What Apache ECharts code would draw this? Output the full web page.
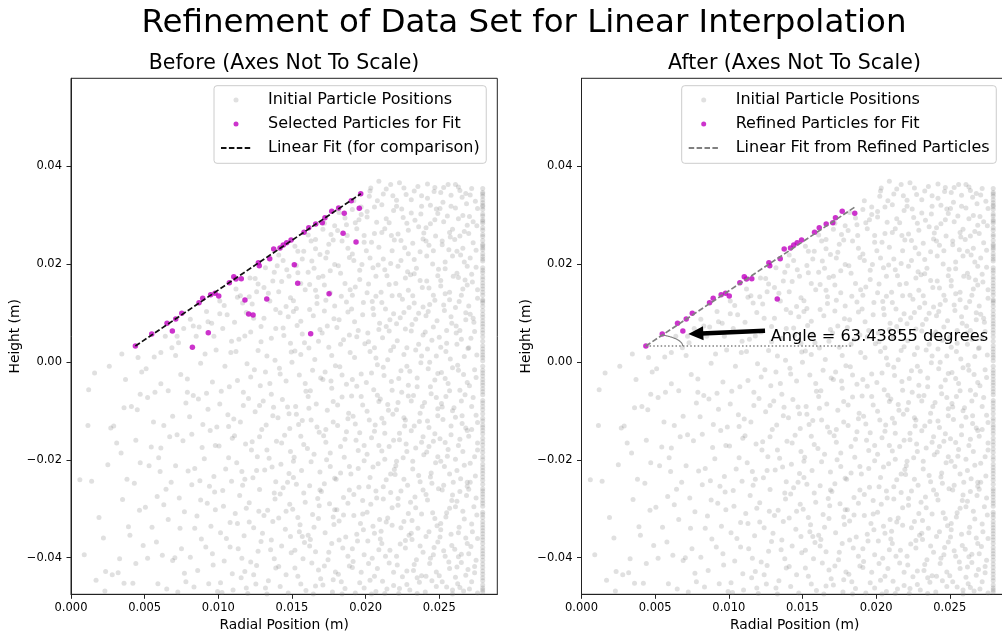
<!DOCTYPE html>
<html>
<head>
<meta charset="utf-8">
<script src="https://cdn.jsdelivr.net/npm/echarts@6/dist/echarts.min.js"></script>
<style>
html,body{margin:0;padding:0;background:#ffffff;}
#chart{width:1002px;height:633px;}
</style>
</head>
<body>
<div id="chart"></div>
<script>
// ---------------- text ----------------
const FONT = 'DejaVu Sans';
const chartTitle = 'Refinement of Data Set for Linear Interpolation';
const leftTitle = 'Before (Axes Not To Scale)';
const rightTitle = 'After (Axes Not To Scale)';
const xAxisName = 'Radial Position (m)';
const yAxisName = 'Height (m)';
const nameInitial = 'Initial Particle Positions';
const nameSelected = 'Selected Particles for Fit';
const nameFitBefore = 'Linear Fit (for comparison)';
const nameRefined = 'Refined Particles for Fit';
const nameFitAfter = 'Linear Fit from Refined Particles';
const angleLabel = 'Angle = 63.43855 degrees';

// ---------------- ticks ----------------
const xTicks = [0, 0.005, 0.010, 0.015, 0.020, 0.025];
const xTickLabels = ['0.000', '0.005', '0.010', '0.015', '0.020', '0.025'];
const yTicks = [-0.04, -0.02, 0, 0.02, 0.04];
const yTickLabels = ['\u22120.04', '\u22120.02', '0.00', '0.02', '0.04'];
const xRange = [0, 0.02894];
const yRange = [-0.04748, 0.05791];

// ---------------- initial particle positions (x, y in m) ----------------
const initialParticles = [
[.0006,-.0241],[.0009,-.0394],
[.0012,-.0057],[.00115,-.0130],[.0014,-.0244],[.0017,-.0446],[.0019,-.0318],[.0016,-.0023],
[.0023,-.0468],[.0025,-.0210],[.0027,-.0135],[.0029,-.0131],[.00235,-.0428],[.0028,-.0435],[.0022,-.0360],[.0026,-.0009],
[.0031,-.0166],[.0034,-.0186],[.00345,.0016],[.0037,-.0036],[.0032,-.0431],[.0035,-.0281],[.0039,-.0337],[.0036,-.0094],[.0033,-.0402],[.0038,-.0240],[.0036,-.0452],
[.0041,-.0091],[.0045,-.0098],[.0043,-.0248],[.00465,-.0303],[.0042,-.0452],[.0048,-.0021],[.0044,-.0160],[.0049,-.0375],[.0047,-.0206],[.0040,-.0354],[.00455,.0009],[.0044,-.0412],[.0047,-.0066],
[.0051,-.0014],[.0056,-.0123],[.0053,-.0212],[.00585,-.0275],[.0055,-.0338],[.0052,-.0401],[.0059,-.0453],[.0057,-.0062],[.00545,-.0174],[.00505,-.0297],[.00565,.0010],[.00595,-.0196],[.0052,-.0073],[.0058,-.0368],
[.0064,.0052],[.00685,.0029],[.0061,-.0045],[.0066,-.0059],[.0063,-.0130],[.0067,-.0153],[.00605,-.0224],[.0068,-.0246],[.00645,-.0260],[.0066,-.0322],[.0062,-.0395],[.0069,-.0406],[.0065,-.0464],[.0061,-.0176],[.0063,-.0292],[.0069,-.0111],[.0061,.0019],
[.00765,.0068],[.0073,.0039],[.0071,.0013],[.00745,-.0026],[.0079,-.0035],[.0078,-.0084],[.0072,-.0149],[.0076,-.0161],[.00795,-.0223],[.00735,-.0278],[.0077,-.0306],[.0075,-.0382],[.00705,-.0400],[.0078,-.0449],[.00725,-.0470],[.0071,-.0212],[.0074,-.0340],[.0077,-.0432],[.0079,-.0062],[.0072,.0052],
[.0081,.0087],[.0085,.0052],[.0088,-.0003],[.0083,-.0069],[.00865,-.0076],[.00805,-.0112],[.0089,-.0175],[.0084,-.0218],[.00875,-.0243],[.0082,-.0251],[.00855,-.0315],[.00885,-.0362],[.0081,-.0399],[.0086,-.0426],[.00835,-.0460],[.00895,-.0128],
[.0087,.0071],[.0082,-.0148],[.0088,-.0282],[.0084,-.0340],[.0083,.0073],
[.0092,.0103],[.00955,.0079],[.00985,.0024],[.0091,.0016],[.0096,-.0041],[.0093,-.0097],[.0099,-.0133],[.00945,-.0140],[.00905,-.0198],[.0097,-.0234],[.00925,-.0289],[.0098,-.0302],[.0095,-.0336],[.00915,-.0378],[.00965,-.0415],[.00935,-.0453],[.00995,-.0469],[.00975,-.0266],
[.0097,.0052],[.0092,-.0064],[.0098,-.0171],[.0094,-.0254],[.0096,-.0392],[.0093,.0082],
[.0101,.0124],[.0106,.0096],[.0103,.0068],[.01085,.0019],[.01045,-.0009],[.01075,-.0051],[.0102,-.0060],[.01065,-.0108],[.01095,-.0156],[.01005,-.0172],[.0105,-.0219],[.0109,-.0244],[.01035,-.0295],[.0108,-.0328],[.01015,-.0349],[.01055,-.0361],[.0104,-.0407],[.01095,-.0433],[.01025,-.0471],[.0107,-.0132],
[.0104,.0115],[.0109,.0042],[.0101,-.0086],[.0107,-.0196],[.0103,-.0263],[.0108,-.0378],[.01015,-.0451],[.0101,.0098],
[.0112,.0149],[.01165,.0120],[.0111,.0081],[.0118,.0053],[.0114,.0046],[.01195,-.0004],[.0113,-.0038],[.0117,-.0089],[.01105,-.0117],[.0115,-.0123],[.01185,-.0168],[.01125,-.0206],[.0116,-.0224],[.01145,-.0273],[.0119,-.0299],[.01115,-.0310],[.01175,-.0355],[.01135,-.0382],[.0118,-.0428],[.01155,-.0441],[.0110,-.0466],[.01165,-.0252],
[.0115,.0135],[.0119,.0101],[.0112,.0021],[.0117,-.0062],[.0111,-.0151],[.0118,-.0240],[.0113,-.0330],[.0116,-.0401],[.0119,-.0462],[.0113,.0132],
[.01215,.0171],[.0126,.0143],[.0123,.0118],[.0129,.0072],[.0122,.0061],[.0127,.0023],[.01245,-.0016],[.01285,-.0049],[.01205,-.0075],[.0125,-.0102],[.01295,-.0138],[.01225,-.0180],[.01265,-.0194],[.01235,-.0237],[.0128,-.0261],[.0121,-.0288],[.01275,-.0305],[.0124,-.0339],[.0129,-.0367],[.0122,-.0409],[.0126,-.0416],[.01255,-.0454],[.0120,-.0473],[.0128,-.0153],
[.0127,.0159],[.0121,.0133],[.0124,.0089],[.0129,.0041],[.0122,-.0031],[.0128,-.0089],[.0123,-.0163],[.0126,-.0222],[.0121,-.0327],[.0127,-.0387],[.0124,-.0435],[.0125,.0170],
[.0132,.0192],[.0137,.0165],[.0134,.0140],[.0139,.0107],[.0131,.0089],[.0136,.0048],[.0133,.0012],[.01385,.0003],[.0135,-.0044],[.01305,-.0080],[.01375,-.0093],[.01325,-.0129],[.01395,-.0162],[.01345,-.0197],[.01365,-.0215],[.01315,-.0221],[.0138,-.0268],[.01335,-.0303],[.0137,-.0326],[.0130,-.0350],[.01355,-.0384],[.0139,-.0421],[.0134,-.0447],[.0132,-.0462],[.0136,-.0066],[.01385,-.0280],
[.0138,.0183],[.0131,.0152],[.0135,.0124],[.0139,.0068],[.0132,-.0021],[.0137,-.0110],[.0133,-.0180],[.0139,-.0245],[.0131,-.0314],[.0136,-.0364],[.0138,-.0402],[.0133,-.0474],
[.0141,.0218],[.01465,.0188],[.0143,.0164],[.0149,.0131],[.0142,.0100],[.01475,.0092],[.01445,.0054],[.01495,.0020],[.01415,-.0013],[.0146,-.0039],[.01435,-.0077],[.0148,-.0106],[.01405,-.0114],[.0145,-.0150],[.0149,-.0183],[.01425,-.0209],[.0147,-.0246],[.0144,-.0257],[.01485,-.0291],[.0141,-.0319],[.01455,-.0342],[.0143,-.0376],[.01495,-.0390],[.0146,-.0435],[.0142,-.0459],[.01475,-.0472],[.0144,.0069],[.01485,-.0136],
[.0144,.0207],[.0148,.0175],[.0141,.0143],[.0146,.0113],[.0149,.0038],[.0142,-.0025],[.0147,-.0092],[.0143,-.0166],[.0148,-.0228],[.0142,-.0270],[.0146,-.0305],[.0149,-.0357],[.0141,-.0418],[.0140,.0196],
[.0152,.0236],[.0157,.0210],[.0154,.0182],[.0159,.0147],[.0151,.0125],[.0156,.0083],[.01535,.0074],[.01585,.0039],[.0150,-.0001],[.0155,-.0027],[.01595,-.0060],[.01525,-.0091],[.0157,-.0120],[.01545,-.0128],[.0158,-.0169],[.01515,-.0195],[.01565,-.0222],[.0153,-.0250],[.0159,-.0287],[.01505,-.0301],[.01555,-.0333],[.01585,-.0369],[.0152,-.0385],[.01575,-.0402],[.0154,-.0438],[.01595,-.0467],[.0156,.0015],[.0151,-.0203],[.0155,-.0347],[.0153,.0109],
[.0158,.0226],[.0153,.0197],[.0156,.0160],[.0151,.0103],[.0157,.0057],[.0152,.0022],[.0159,-.0044],[.0153,-.0107],[.0156,-.0152],[.0151,-.0236],[.0158,-.0268],[.0154,-.0318],[.0157,-.0357],[.0152,-.0421],[.0156,-.0454],[.0154,.0226],
[.0161,.0259],[.0166,.0231],[.01635,.0206],[.0168,.0172],[.0162,.0158],[.0167,.0119],[.01645,.0094],[.0169,.0066],[.01615,.0028],[.01655,.0005],[.01695,-.0033],[.01625,-.0059],[.01665,-.0086],[.0163,-.0119],[.01685,-.0144],[.01605,-.0177],[.0165,-.0189],[.0169,-.0225],[.0162,-.0253],[.01675,-.0279],[.0164,-.0312],[.0168,-.0320],[.0161,-.0354],[.0166,-.0388],[.01635,-.0411],[.01695,-.0443],[.01645,-.0474],[.0167,.0133],[.01615,-.0095],[.01685,-.0294],[.0165,.0191],[.01625,-.0363],
[.0163,.0247],[.0169,.0219],[.0161,.0183],[.0166,.0146],[.0162,.0107],[.0168,.0042],[.0164,-.0017],[.0161,-.0071],[.0167,-.0133],[.0163,-.0204],[.0169,-.0262],[.0165,-.0338],[.0162,-.0376],[.0168,-.0425],[.0166,-.0458],[.0166,.0250],
[.0172,.0283],[.01765,.0260],[.0174,.0224],[.0179,.0199],[.0171,.0175],[.0176,.0141],[.0173,.0126],[.01785,.0088],[.01705,.0059],[.0175,.0030],[.01795,-.0008],[.01725,-.0021],[.0177,-.0054],[.0174,-.0099],[.0178,-.0123],[.01715,-.0151],[.0176,-.0186],[.01735,-.0200],[.0179,-.0238],[.0170,-.0265],[.01755,-.0290],[.0178,-.0317],[.01725,-.0349],[.0177,-.0371],[.01745,-.0404],[.01795,-.0429],[.0171,-.0456],[.01765,-.0039],[.0173,-.0164],[.01785,-.0332],[.0175,.0240],[.0172,.0104],[.01775,-.0470],
[.0171,.0271],[.0178,.0249],[.0173,.0212],[.0176,.0186],[.0172,.0157],[.0179,.0114],[.0174,.0073],[.0177,.0013],[.0171,-.0036],[.0178,-.0081],[.0173,-.0138],[.0176,-.0214],[.0172,-.0249],[.0179,-.0302],[.0175,-.0389],[.0172,-.0417],[.0178,-.0445],[.0179,.0278],
[.0182,.0305],[.0187,.0280],[.0184,.0247],[.0189,.0213],[.01815,.0196],[.0186,.0160],[.01835,.0134],[.0188,.0102],[.01805,.0070],[.0185,.0045],[.01895,.0019],[.01825,-.0010],[.0187,-.0046],[.0184,-.0072],[.01885,-.0105],[.0181,-.0130],[.0186,-.0158],[.0183,-.0173],[.0189,-.0214],[.0180,-.0240],[.0185,-.0277],[.0188,-.0289],[.0182,-.0325],[.01865,-.0358],[.01845,-.0380],[.0189,-.0417],[.01815,-.0434],[.0186,-.0463],[.01875,.0258],[.0183,.0036],[.01855,-.0195],[.01805,-.0302],[.0188,-.0116],[.01835,-.0449],[.01895,.0147],
[.0186,.0294],[.0181,.0268],[.0188,.0232],[.0183,.0181],[.0187,.0122],[.0182,.0086],[.0189,.0055],[.0184,-.0027],[.0181,-.0088],[.0187,-.0143],[.0183,-.0227],[.0189,-.0262],[.0185,-.0313],[.0182,-.0364],[.0188,-.0397],[.0184,-.0474],
[.0192,.0329],[.0197,.0301],[.0194,.0272],[.0199,.0244],[.0191,.0220],[.0196,.0187],[.0193,.0153],[.01985,.0121],[.01905,.0108],[.0195,.0064],[.01995,.0037],[.01925,.0009],[.0197,-.0025],[.0194,-.0050],[.0198,-.0088],[.01915,-.0111],[.0196,-.0145],[.01935,-.0160],[.0199,-.0202],[.0190,-.0229],[.01955,-.0256],[.0198,-.0283],[.0192,-.0314],[.01965,-.0330],[.01945,-.0366],[.0199,-.0394],[.0191,-.0420],[.0196,-.0451],[.0193,-.0472],[.01975,.0199],[.01905,-.0070],[.0195,-.0181],[.01985,-.0343],[.01925,.0082],[.01955,.0290],[.01915,-.0408],
[.0197,.0316],[.0193,.0284],[.0199,.0258],[.0192,.0207],[.0196,.0168],[.0191,.0136],[.0198,.0096],[.0194,.0051],[.0191,-.0036],[.0197,-.0071],[.0193,-.0127],[.0199,-.0171],[.0195,-.0218],[.0192,-.0271],[.0198,-.0311],[.0194,-.0352],[.0191,-.0382],[.0197,-.0430],[.0199,-.0462],[.0191,.0311],
[.0209,.0369],[.02035,.0355],[.0206,.0316],[.0201,.0307],[.02075,.0285],[.0204,.0244],[.02005,.0227],[.02085,.0198],[.0205,.0192],[.0202,.0159],[.0207,.0134],[.02045,.0123],[.02095,.0079],[.02015,.0059],[.0206,.0029],[.0203,.0021],[.0208,-.0006],[.02005,-.0042],[.02055,-.0057],[.0209,-.0081],[.02025,-.0119],[.02065,-.0129],[.0204,-.0155],[.0201,-.0189],[.02085,-.0208],[.0205,-.0215],[.0202,-.0255],[.02075,-.0278],[.02035,-.0291],[.02095,-.0322],[.0206,-.0350],[.02015,-.0366],[.02045,-.0401],[.0208,-.0422],[.0203,-.0446],[.0207,-.0469],[.02025,.0338],[.02055,.0096],
[.0203,.0349],[.0208,.0329],[.0201,.0296],[.0206,.0262],[.0209,.0234],[.0203,.0212],[.0207,.0175],[.0201,.0141],[.0205,.0109],[.0209,.0066],[.0202,.0041],[.0207,.0008],[.0204,-.0023],[.0208,-.0068],[.0201,-.0101],[.0206,-.0142],[.0209,-.0171],[.0203,-.0236],[.0207,-.0264],[.0201,-.0307],[.0205,-.0336],[.0209,-.0384],[.0202,-.0412],[.0206,-.0438],[.0204,-.0474],
[.0214,.0353],[.02185,.0339],[.0211,.0321],[.0216,.0284],[.0213,.0272],[.02195,.0249],[.0212,.0210],[.0217,.0201],[.02145,.0176],[.02105,.0142],[.0218,.0135],[.02135,.0108],[.02165,.0086],[.02115,.0049],[.0219,.0031],[.0215,.0004],[.02125,-.0028],[.02175,-.0040],[.0210,-.0076],[.02155,-.0099],[.02185,-.0107],[.0213,-.0146],[.0216,-.0173],[.0211,-.0182],[.02195,-.0220],[.0214,-.0241],[.0217,-.0267],[.0212,-.0280],[.0215,-.0319],[.0218,-.0334],[.02105,-.0346],[.02165,-.0385],[.02135,-.0397],[.0219,-.0430],[.02115,-.0448],[.02145,-.0464],[.02175,.0258],[.02125,-.0125],[.0216,.0063],[.0210,-.0362],
[.0217,.0362],[.0212,.0343],[.0219,.0309],[.0214,.0292],[.0211,.0264],[.0218,.0227],[.0213,.0188],[.0216,.0158],[.0211,.0121],[.0219,.0098],[.0214,.0072],[.0217,.0023],[.0212,-.0011],[.0218,-.0058],[.0215,-.0087],[.0211,-.0115],[.0219,-.0160],[.0213,-.0199],[.0217,-.0229],[.0212,-.0255],[.0218,-.0298],[.0214,-.0327],[.0211,-.0371],[.0216,-.0411],[.0219,-.0457],[.0213,-.0473],
[.0223,.0366],[.02275,.0342],[.0221,.0330],[.02255,.0295],[.0229,.0269],[.0222,.0261],[.02265,.0233],[.0224,.0207],[.02285,.0184],[.02205,.0160],[.0225,.0128],[.02295,.0111],[.02235,.0090],[.0227,.0067],[.02215,.0043],[.0226,.0015],[.0228,-.0009],[.02225,-.0034],[.02245,-.0062],[.0229,-.0070],[.0221,-.0098],[.02265,-.0131],[.0223,-.0159],[.02275,-.0168],[.02255,-.0196],[.0220,-.0230],[.02285,-.0252],[.0224,-.0264],[.0222,-.0293],[.0226,-.0326],[.02295,-.0354],[.02235,-.0372],[.0227,-.0380],[.02215,-.0415],[.0225,-.0439],[.0228,-.0455],[.02225,-.0473],[.02245,.0312],[.0229,.0146],[.02205,-.0212],[.0226,-.0114],
[.0226,.0355],[.0221,.0318],[.0228,.0283],[.0224,.0248],[.0229,.0221],[.0222,.0195],[.0227,.0171],[.0223,.0136],[.0226,.0101],[.0221,.0078],[.0228,.0029],[.0224,-.0018],[.0229,-.0048],[.0222,-.0083],[.0227,-.0119],[.0223,-.0146],[.0228,-.0183],[.0221,-.0203],[.0226,-.0240],[.0222,-.0279],[.0229,-.0310],[.0224,-.0339],[.0227,-.0365],[.0221,-.0397],[.0228,-.0427],[.0223,-.0463],
[.02355,.0358],[.0231,.0331],[.0238,.0318],[.02335,.0289],[.02395,.0263],[.0232,.0242],[.0237,.0225],[.02345,.0191],[.02305,.0178],[.02385,.0152],[.0233,.0120],[.0236,.0099],[.02315,.0076],[.0239,.0055],[.0234,.0024],[.02375,-.0002],[.0230,-.0019],[.0235,-.0051],[.02325,-.0069],[.02385,-.0091],[.02365,-.0122],[.0231,-.0141],[.0234,-.0176],[.02395,-.0190],[.0232,-.0219],[.0237,-.0245],[.02335,-.0276],[.02305,-.0287],[.0238,-.0311],[.02355,-.0340],[.02315,-.0363],[.0239,-.0389],[.02345,-.0404],[.02325,-.0426],[.02365,-.0450],[.0230,-.0466],[.02375,.0302],[.0233,.0180],[.0236,.0036],[.0239,-.0153],[.02315,-.0324],[.0235,-.0441],
[.0233,.0349],[.0238,.0339],[.0231,.0304],[.0236,.0276],[.0239,.0251],[.0233,.0209],[.0237,.0166],[.0232,.0135],[.0239,.0112],[.0234,.0087],[.0231,.0063],[.0238,.0012],[.0235,-.0033],[.0231,-.0080],[.0237,-.0105],[.0233,-.0131],[.0238,-.0164],[.0232,-.0203],[.0236,-.0232],[.0239,-.0262],[.0234,-.0298],[.0231,-.0350],[.0237,-.0376],[.0233,-.0414],[.0238,-.0437],[.0235,-.0473],
[.0242,.0363],[.02465,.0348],[.0244,.0320],[.0249,.0303],[.0241,.0274],[.02475,.0257],[.0243,.0238],[.02455,.0200],[.02495,.0189],[.02415,.0165],[.0246,.0136],[.02435,.0117],[.02485,.0084],[.02405,.0061],[.0245,.0044],[.0248,.0012],[.02425,-.0014],[.0247,-.0037],[.02445,-.0065],[.0240,-.0083],[.0249,-.0110],[.0243,-.0134],[.0246,-.0162],[.02415,-.0184],[.02475,-.0206],[.0244,-.0235],[.02495,-.0259],[.0242,-.0282],[.02455,-.0308],[.02485,-.0335],[.0241,-.0357],[.02465,-.0379],[.02435,-.0412],[.0248,-.0429],[.0245,-.0447],[.02405,-.0470],[.0247,.0290],[.02425,.0103],[.0249,-.0096],[.02445,-.0227],[.0246,-.0394],[.02415,.0216],[.02435,-.0001],
[.0247,.0356],[.0242,.0334],[.0248,.0312],[.0244,.0282],[.0241,.0247],[.0246,.0227],[.0249,.0176],[.0243,.0151],[.0247,.0126],[.0241,.0094],[.0246,.0071],[.0242,.0026],[.0249,-.0024],[.0244,-.0051],[.0248,-.0073],[.0242,-.0121],[.0247,-.0147],[.0243,-.0173],[.0249,-.0194],[.0245,-.0248],[.0241,-.0271],[.0247,-.0320],[.0243,-.0347],[.0249,-.0368],[.0244,-.0401],[.0241,-.0438],[.0248,-.0459],
[.0253,.0356],[.0258,.0340],[.02505,.0313],[.02555,.0298],[.0259,.0271],[.0252,.0239],[.02565,.0229],[.0254,.0204],[.02595,.0175],[.0251,.0155],[.0257,.0127],[.02535,.0105],[.02585,.0079],[.0250,.0050],[.0255,.0038],[.02575,.0006],[.02515,-.0022],[.0256,-.0044],[.02545,-.0071],[.0259,-.0100],[.02525,-.0118],[.0258,-.0149],[.02505,-.0157],[.02555,-.0193],[.02535,-.0214],[.02595,-.0246],[.0252,-.0262],[.0257,-.0299],[.02545,-.0317],[.0251,-.0343],[.02585,-.0375],[.0253,-.0386],[.02565,-.0409],[.0250,-.0437],[.0255,-.0460],[.0259,-.0474],[.02525,.0326],[.02575,.0255],[.0254,.0139],[.02515,-.0085],[.0256,-.0179],[.02585,-.0283],[.02505,-.0358],[.02545,.0021],
[.0256,.0362],[.0251,.0346],[.0258,.0318],[.0253,.0286],[.0257,.0264],[.0252,.0247],[.0259,.0216],[.0254,.0190],[.0251,.0166],[.0257,.0142],[.0253,.0116],[.0258,.0092],[.0255,.0064],[.0251,.0030],[.0259,-.0012],[.0254,-.0034],[.0257,-.0059],[.0252,-.0092],[.0258,-.0131],[.0254,-.0165],[.0251,-.0203],[.0257,-.0229],[.0253,-.0252],[.0259,-.0272],[.0255,-.0308],[.0251,-.0330],[.0258,-.0352],[.0254,-.0397],[.0257,-.0422],[.0252,-.0449],[.0259,-.0466],
[.0261,.0362],[.02655,.0336],[.02685,.0323],[.0263,.0292],[.0267,.0266],[.02605,.0250],[.02645,.0218],[.0269,.0195],[.0262,.0181],[.0266,.0149],[.02635,.0123],[.0268,.0100],[.02615,.0073],[.0265,.0046],[.02695,.0027],[.02625,-.0007],[.02665,-.0026],[.0264,-.0058],[.02675,-.0067],[.0260,-.0094],[.02655,-.0126],[.0269,-.0140],[.0263,-.0171],[.0261,-.0199],[.0267,-.0211],[.02645,-.0239],[.02685,-.0273],[.0262,-.0285],[.0266,-.0305],[.02635,-.0338],[.0268,-.0360],[.02605,-.0383],[.0265,-.0410],[.02695,-.0424],[.02625,-.0453],[.02665,-.0468],[.0264,.0350],[.02675,.0167],[.02615,.0059],[.02655,-.0110],[.0269,-.0254],[.0263,-.0398],[.0266,.0232],[.0261,-.0440],
[.0263,.0357],[.0268,.0344],[.0261,.0314],[.0266,.0299],[.0269,.0279],[.0264,.0257],[.0262,.0226],[.0267,.0204],[.0263,.0172],[.0269,.0157],[.0265,.0136],[.0261,.0111],[.0268,.0086],[.0264,.0064],[.0262,.0036],[.0267,.0011],[.0263,-.0017],[.0269,-.0042],[.0265,-.0080],[.0261,-.0113],[.0268,-.0135],[.0264,-.0158],[.0266,-.0183],[.0262,-.0222],[.0269,-.0246],[.0264,-.0265],[.0261,-.0296],[.0267,-.0321],[.0263,-.0349],[.0269,-.0371],[.0265,-.0393],[.0262,-.0419],[.0268,-.0436],[.0264,-.0461],
[.0272,.0354],[.02745,.0328],[.02705,.0297],[.02755,.0278],[.0273,.0243],[.0271,.0212],[.0275,.0193],[.02725,.0163],[.0276,.0130],[.0270,.0114],[.02735,.0081],[.02715,.0048],[.02755,.0014],[.0274,-.0016],[.02705,-.0049],[.0273,-.0073],[.0275,-.0109],[.0272,-.0138],[.0276,-.0166],[.0271,-.0207],[.02745,-.0233],[.0270,-.0260],[.02735,-.0296],[.02755,-.0313],[.02725,-.0347],[.02715,-.0377],[.0275,-.0405],[.0274,-.0431],[.02705,-.0464],[.0273,.0089],[.0276,-.0180],
[.0271,.0341],[.0276,.0313],[.0273,.0286],[.0270,.0262],[.0275,.0228],[.0272,.0179],[.0276,.0147],[.0271,.0097],[.0274,.0062],[.0270,.0029],[.0275,-.0032],[.0272,-.0091],[.0276,-.0124],[.0270,-.0152],[.0274,-.0194],[.0271,-.0246],[.0275,-.0278],[.0272,-.0331],[.0276,-.0361],[.0270,-.0392],[.0274,-.0418],[.0272,-.0449],[.0276,-.0472]
];

// particles stacked against the outer wall (x = wallX)
const wallX = 0.02795;
const wallParticlesY = [
.0354,.0346,.0338,.0331,.0325,.0317,.0311,.0302,.0298,.0290,.0283,.0274,.0269,.0256,.0248,.0240,.0233,.0229,.0221,.0215,.0206,.0192,.0187,.0174,.0168,.0161,.0155,.0142,.0136,.0127,.0120,.0113,.0105,.0091,.0084,.0078,.0072,.0065,.0051,.0042,.0033,.0026,.0020,.0014,.0002,
-.0009,-.0017,-.0029,-.0036,-.0042,-.0048,-.0055,-.0067,-.0079,-.0084,-.0098,-.0106,-.0115,-.0121,-.0129,-.0134,-.0147,-.0156,-.0163,-.0178,-.0185,-.0194,-.0200,-.0209,-.0216,-.0228,-.0235,-.0242,-.0259,-.0264,-.0270,-.0276,-.0283,-.0295,-.0307,-.0312,-.0326,-.0333,-.0339,-.0345,-.0358,-.0364,-.0371,-.0379,-.0386,-.0392,-.0405,-.0413,-.0420,-.0427,-.0434,-.0441,-.0456,-.0462,-.0470
];
const wallParticlesY2 = [
.0343,.0320,.0287,.0260,.0237,.0210,.0182,.0149,.0124,.0097,.0059,.0009,
-.0023,-.0061,-.0091,-.0140,-.0170,-.0222,-.0250,-.0289,-.0318,-.0351,-.0398,-.0447,-.0466
];

// ---------------- selected / refined particles ----------------
const selectedParticles = [
[.00437,.00324],[.00548,.00569],[.00688,.00630],[.00652,.00787],[.00711,.00875],[.00752,.00992],
[.00824,.00297],[.00869,.01208],[.00894,.01298],[.00932,.00595],[.00948,.01372],[.00978,.01400],
[.01003,.01345],[.01075,.01617],[.01105,.01739],[.01120,.01692],[.01156,.01698],[.01181,.01263],
[.01206,.00977],[.01236,.00957],[.01272,.02025],[.01278,.01964],[.01329,.01284],[.01349,.02107],
[.01376,.02305],[.01419,.02325],[.01441,.02387],[.01464,.02434],[.01494,.02489],[.01516,.01984],
[.01539,.01604],[.01582,.02646],[.01614,.02740],[.01627,.00575],[.01661,.02816],[.01706,.02842],
[.01724,.02944],[.01752,.01392],[.01770,.03075],[.01817,.03142],[.01847,.02626],[.01855,.03034],
[.01903,.03291],[.01935,.02448],[.01957,.03136],[.01967,.03434]
];
const refinedParticles = [
[.00437,.00324],[.00548,.00569],[.00688,.00630],[.00652,.00787],[.00711,.00875],[.00752,.00992],
[.00869,.01208],[.00894,.01298],[.00948,.01372],[.00978,.01400],[.01003,.01345],[.01075,.01617],
[.01105,.01739],[.01120,.01692],[.01156,.01698],[.01272,.02025],[.01278,.01964],[.01329,.01284],
[.01349,.02107],[.01376,.02305],[.01419,.02325],[.01441,.02387],[.01464,.02434],[.01494,.02489],
[.01582,.02646],[.01614,.02740],[.01661,.02816],[.01706,.02842],[.01724,.02944],[.01770,.03075],
[.01855,.03034]
];

// ---------------- fit lines and annotation ----------------
const linearFitBefore = [[.00437,.00322],[.01967,.03432]];
const linearFitAfter = [[.00437,.00324],[.01855,.03160]];
const horizontalReference = [[.00437,.00324],[.01834,.00324]];
const angleDeg = 63.43855;
const angleArcRadius = 0.0025;
const arrowTail = [.01246,.00636];
const arrowEnd = [.00776,.00575];
const angleLabelAnchor = [.01284,.00508];

// ---------------- build ----------------
const wallParticles = wallParticlesY.concat(wallParticlesY2).map(y => [wallX, y]);
const allInitial = initialParticles.concat(wallParticles);

function tickLabel(ticks, labels, v) {
  for (let i = 0; i < ticks.length; i++) if (Math.abs(ticks[i] - v) < 1e-9) return labels[i];
  return '';
}
const measureCtx = document.createElement('canvas').getContext('2d');
function textWidth(text, size) {
  measureCtx.font = size + 'px "' + FONT + '"';
  return measureCtx.measureText(text).width;
}
function centeredTitle(text, cx, cy, size) {
  return {
    text: text, left: cx - textWidth(text, size) / 2, top: cy - size / 2, padding: 0,
    textStyle: { fontSize: size, fontWeight: 'normal', color: '#000', fontFamily: FONT }
  };
}

const GRID_TOP = 78.3, GRID_H = 516, GRID_W = 426.3;
const gridLefts = [71, 581.5];

function xAxisFor(i) {
  return {
    gridIndex: i, type: 'value', min: xRange[0], max: xRange[1],
    axisLine: { show: true, onZero: false, lineStyle: { color: '#222', width: 1 } },
    axisTick: { show: true, inside: false, length: 4.5, lineStyle: { color: '#222', width: 1 }, customValues: xTicks },
    axisLabel: { customValues: xTicks, formatter: v => tickLabel(xTicks, xTickLabels, v),
      fontSize: 11.5, color: '#000', fontFamily: FONT, margin: 7.5 },
    splitLine: { show: false },
    name: xAxisName, nameLocation: 'middle', nameGap: 22.5,
    nameTextStyle: { fontSize: 13.8, color: '#000', fontFamily: FONT }
  };
}
function yAxisFor(i) {
  return {
    gridIndex: i, type: 'value', min: yRange[0], max: yRange[1],
    axisLine: { show: true, onZero: false, lineStyle: { color: '#222', width: 1 } },
    axisTick: { show: true, inside: false, length: 4.5, lineStyle: { color: '#222', width: 1 }, customValues: yTicks },
    axisLabel: { customValues: yTicks, formatter: v => tickLabel(yTicks, yTickLabels, v),
      fontSize: 11.5, color: '#000', fontFamily: FONT, margin: 9 },
    splitLine: { show: false },
    name: yAxisName, nameLocation: 'middle', nameGap: 45.5,
    nameTextStyle: { fontSize: 13.8, color: '#000', fontFamily: FONT }
  };
}
function legendFor(left, names, lineName) {
  return {
    data: names.map(n => n === lineName ? { name: n, itemStyle: { opacity: 0 } } : { name: n }),
    orient: 'vertical', left: left, top: 85.7,
    padding: [4.3, 6.6, 5.3, 6], itemWidth: 30, itemHeight: 5, itemGap: 4,
    selectedMode: false,
    backgroundColor: 'rgba(255,255,255,0.8)', borderColor: '#cccccc', borderWidth: 1, borderRadius: 3,
    textStyle: { fontSize: 16, lineHeight: 20, color: '#000', fontFamily: FONT, padding: [0, 0, 0, 12] }
  };
}

const grayStyle = { color: 'rgba(128,128,128,0.3)' };
const magenta = '#bf00bf';

const option = {
  animation: false,
  backgroundColor: '#ffffff',
  textStyle: { fontFamily: FONT },
  title: [
    centeredTitle(chartTitle, 524, 23, 32.5),
    centeredTitle(leftTitle, 284, 63, 20.5),
    centeredTitle(rightTitle, 794.5, 63, 20.5)
  ],
  legend: [
    legendFor(214, [nameInitial, nameSelected, nameFitBefore], nameFitBefore),
    legendFor(681.7, [nameInitial, nameRefined, nameFitAfter], nameFitAfter)
  ],
  grid: gridLefts.map(l => ({
    left: l, top: GRID_TOP, width: GRID_W, height: GRID_H, show: true,
    borderColor: '#222', borderWidth: 1, backgroundColor: 'transparent',
    containLabel: false, outerBoundsMode: 'none'
  })),
  xAxis: [xAxisFor(0), xAxisFor(1)],
  yAxis: [yAxisFor(0), yAxisFor(1)],
  series: [
    // ----- left panel -----
    { name: nameInitial, type: 'scatter', xAxisIndex: 0, yAxisIndex: 0, data: allInitial,
      symbolSize: 5, itemStyle: grayStyle, z: 2, silent: true },
    { name: nameSelected, type: 'scatter', xAxisIndex: 0, yAxisIndex: 0, data: selectedParticles,
      symbolSize: 5.5, itemStyle: { color: magenta }, z: 3, silent: true },
    { name: nameFitBefore, type: 'line', xAxisIndex: 0, yAxisIndex: 0, data: linearFitBefore,
      symbol: 'none', itemStyle: { color: '#111' },
      lineStyle: { color: '#111', width: 1.7, type: [5.5, 2.4] }, z: 4, silent: true },
    // ----- right panel -----
    { name: nameInitial, type: 'scatter', xAxisIndex: 1, yAxisIndex: 1, data: allInitial,
      symbolSize: 5, itemStyle: grayStyle, z: 2, silent: true },
    { name: nameRefined, type: 'scatter', xAxisIndex: 1, yAxisIndex: 1, data: refinedParticles,
      symbolSize: 5.5, itemStyle: { color: magenta }, z: 3, silent: true },
    { name: nameFitAfter, type: 'line', xAxisIndex: 1, yAxisIndex: 1, data: linearFitAfter,
      symbol: 'none', itemStyle: { color: '#808080' },
      lineStyle: { color: '#808080', width: 1.7, type: [5.5, 2.4] }, z: 4, silent: true },
    { type: 'line', xAxisIndex: 1, yAxisIndex: 1, data: horizontalReference,
      symbol: 'none', lineStyle: { color: '#808080', width: 1.5, type: [1.5, 2.2] }, z: 4, silent: true },
    { type: 'custom', xAxisIndex: 1, yAxisIndex: 1, data: [refinedParticles[0]], z: 4, silent: true,
      renderItem: function (params, api) {
        const cx = api.value(0), cy = api.value(1);
        const pts = [];
        const n = 48;
        for (let i = 0; i <= n; i++) {
          const t = angleDeg * Math.PI / 180 * i / n;
          pts.push(api.coord([cx + angleArcRadius * Math.cos(t), cy + angleArcRadius * Math.sin(t)]));
        }
        return { type: 'polyline', shape: { points: pts }, style: { stroke: '#808080', lineWidth: 1.1, fill: null } };
      } },
    { type: 'scatter', xAxisIndex: 1, yAxisIndex: 1, data: [angleLabelAnchor], symbolSize: 0, z: 6, silent: true,
      itemStyle: { color: '#000' },
      label: { show: true, position: 'right', distance: 0, formatter: angleLabel,
        fontSize: 16.2, color: '#000', fontFamily: FONT, textBorderWidth: 0, opacity: 1 },
      markLine: { silent: true, animation: false, symbol: ['none', 'triangle'], symbolSize: [14, 15],
        lineStyle: { color: '#000', width: 4.5, type: 'solid' }, itemStyle: { color: '#000' },
        label: { show: false }, emphasis: { disabled: true },
        data: [[{ coord: arrowTail }, { coord: arrowEnd }]] } }
  ]
};

const chart = echarts.init(document.getElementById('chart'), null, { renderer: 'canvas', width: 1002, height: 633 });
chart.setOption(option);
</script>
</body>
</html>
